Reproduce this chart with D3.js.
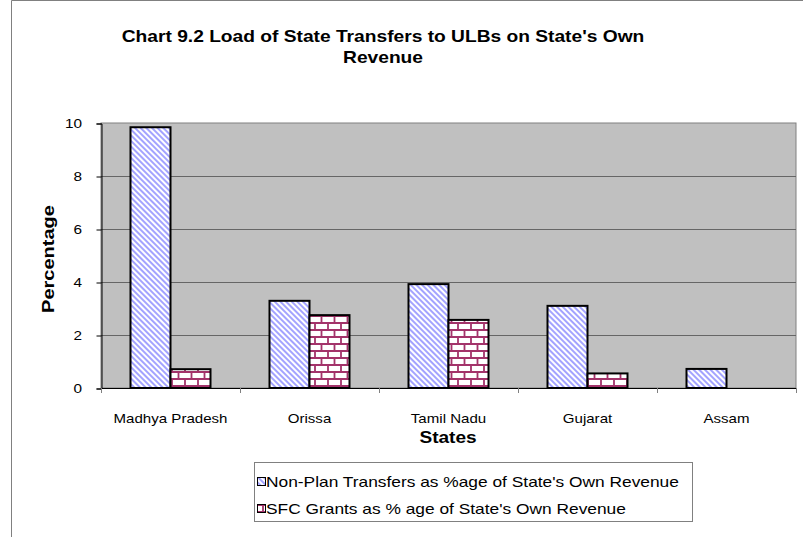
<!DOCTYPE html>
<html><head><meta charset="utf-8">
<script src="https://cdn.jsdelivr.net/npm/d3@7"></script>
<style>body{margin:0;background:#fff}svg{display:block;font-family:Arial,"Liberation Sans",sans-serif}</style>
</head><body><svg id="c" width="803" height="537"></svg>
<script>
const categories = ["Madhya Pradesh","Orissa","Tamil Nadu","Gujarat","Assam"];
const seriesNames = ["Non-Plan Transfers as %age of State's Own Revenue","SFC Grants as % age of State's Own Revenue"];
const nonPlan = [9.84, 3.29, 3.92, 3.10, 0.72];
const sfc = [0.71, 2.75, 2.57, 0.55, 0];
const yTicks = [0,2,4,6,8,10];
const titleLines = ["Chart 9.2 Load of State Transfers to ULBs on State's Own","Revenue"];

(function(){
const svg = d3.select("#c");
const defs = svg.append("defs");
const p1 = defs.append("pattern").attr("id","diag").attr("patternUnits","userSpaceOnUse")
  .attr("width",4).attr("height",4).attr("patternTransform","rotate(-45)");
p1.append("rect").attr("width",4).attr("height",4).attr("fill","#ffffff");
p1.append("rect").attr("width",2).attr("height",4).attr("fill","#a3a3ff");
const p2 = defs.append("pattern").attr("id","brick").attr("patternUnits","userSpaceOnUse")
  .attr("width",13).attr("height",14);
p2.append("rect").attr("width",13).attr("height",14).attr("fill","#ffffff");
p2.append("path").attr("d","M0,1H13M0,8H13M3,1V8M9.5,8V14M9.5,0V1").attr("stroke","#a3336a").attr("stroke-width",1.8).attr("fill","none");

const fills = ["url(#diag)","url(#brick)"];
const data = [nonPlan, sfc];

// wide text: place at (x,y), stretched horizontally by sx
function wtext(g, x, y, str, size, sx, opts){
  opts = opts || {};
  const t = g.append("text")
    .attr("transform", `translate(${x},${y})` + (opts.rot ? ` rotate(${opts.rot})` : "") + ` scale(${sx},1)`)
    .attr("text-anchor", opts.anchor || "middle").attr("font-size", size).attr("fill","#000")
    .attr("font-weight", opts.bold ? "bold" : "normal").text(str);
  return t;
}

svg.append("path").attr("d","M11.5,537V0.5H803").attr("fill","none").attr("stroke","#808080").attr("stroke-width",1);

const pl = 101, pr = 796, pt = 123, pb = 388;
const x = d3.scaleBand().domain(categories).range([pl,pr]).padding(0);
const xs = d3.scaleBand().domain([0,1]).range([0,x.bandwidth()]).paddingInner(0).paddingOuter(0.7375);
const y = d3.scaleLinear().domain([0,10]).range([pb,pt]);

svg.append("rect").attr("x",pl).attr("y",pt).attr("width",pr-pl).attr("height",pb-pt)
  .attr("fill","#c0c0c0").attr("stroke","#808080").attr("stroke-width",1);

svg.append("g").selectAll("line").data(yTicks.filter(t=>t>0&&t<10)).join("line")
  .attr("x1",pl).attr("x2",pr).attr("y1",d=>Math.round(y(d))+0.5).attr("y2",d=>Math.round(y(d))+0.5)
  .attr("stroke","#666666").attr("stroke-width",1);

const yAxis = d3.axisLeft(y).tickValues(yTicks).tickSize(5).tickFormat("");
const gy = svg.append("g").attr("transform",`translate(${pl+0.5},0.5)`).call(yAxis);
gy.select(".domain").attr("stroke","#000");
gy.selectAll(".tick line").attr("stroke","#000");
const gyl = svg.append("g");
yTicks.forEach(t => wtext(gyl, 82, y(t)+4.5, String(t), 13, 1.18, {anchor:"end"}));

categories.forEach((c,i)=>{
  data.forEach((arr,s)=>{
    if(arr[i] <= 0) return;
    svg.append("rect").attr("x",x(c)+xs(s)).attr("y",y(arr[i])).attr("width",xs.bandwidth()).attr("height",pb-y(arr[i]))
      .attr("fill",fills[s]).attr("stroke","#000").attr("stroke-width",2);
  });
});

svg.append("line").attr("x1",pl).attr("x2",pr).attr("y1",pb+0.5).attr("y2",pb+0.5).attr("stroke","#000");
const bounds = categories.map(c=>x(c)).concat([x(categories[categories.length-1])+x.bandwidth()]);
svg.append("g").selectAll("line").data(bounds).join("line")
  .attr("x1",d=>Math.round(d)+0.5).attr("x2",d=>Math.round(d)+0.5).attr("y1",pb).attr("y2",pb+5).attr("stroke","#808080");
const gx = svg.append("g");
categories.forEach(c => wtext(gx, x(c)+x.bandwidth()/2, 423, c, 13, 1.16));

wtext(svg, 383, 42, titleLines[0], 16, 1.2, {bold:true});
wtext(svg, 383, 63, titleLines[1], 16, 1.2, {bold:true});
wtext(svg, 448, 443, "States", 16, 1.19, {bold:true});
wtext(svg, 54, 259, "Percentage", 16, 1.25, {bold:true, rot:-90});

const lg = svg.append("g");
lg.append("rect").attr("x",254.5).attr("y",462.5).attr("width",438).attr("height",59).attr("fill","#fff").attr("stroke","#808080");
seriesNames.forEach((n,i)=>{
  const yy = 482 + i*27;
  lg.append("rect").attr("x",257.5).attr("y",yy-4.5).attr("width",8).attr("height",8).attr("fill",fills[i]).attr("stroke","#000");
  wtext(lg, 266, yy+5, n, 14, 1.24, {anchor:"start"});
});
})();
</script></body></html>
